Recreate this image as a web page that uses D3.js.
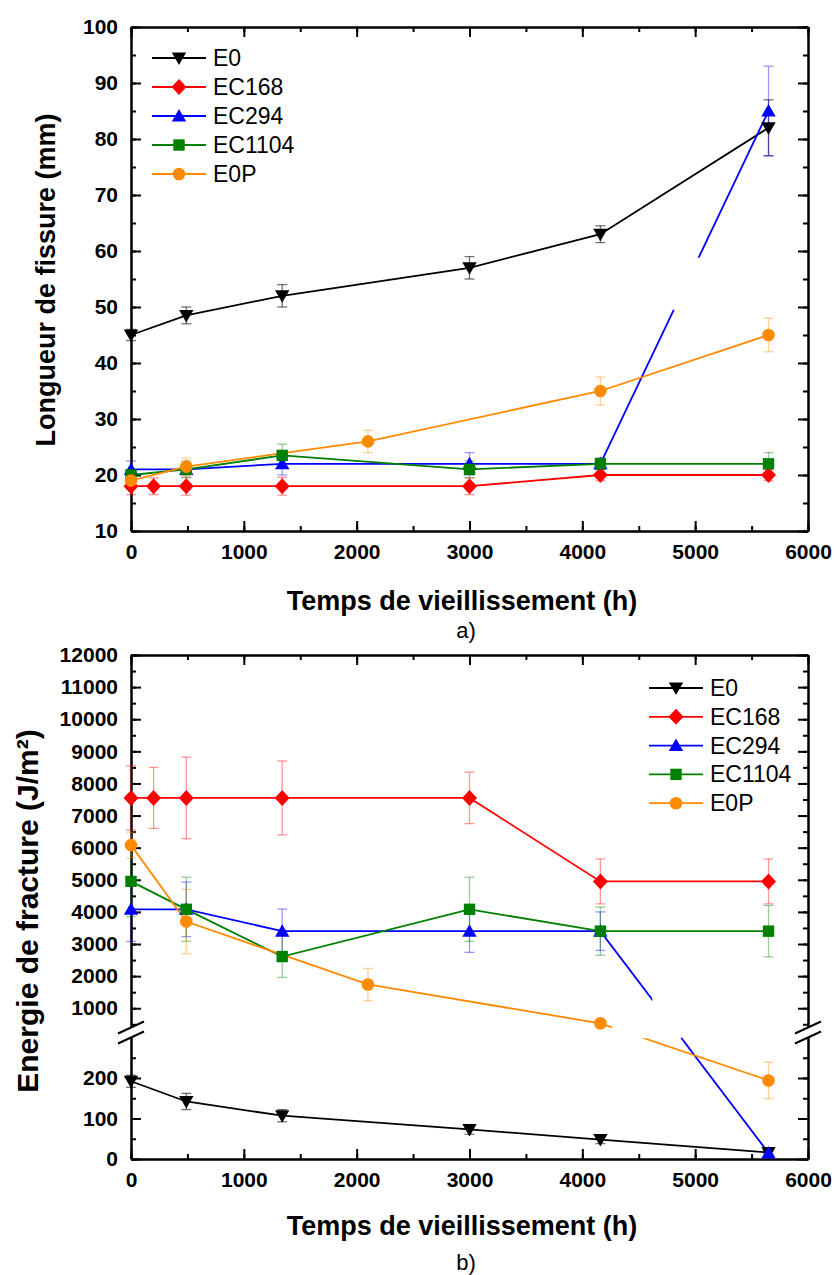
<!DOCTYPE html>
<html><head><meta charset="utf-8">
<script src="https://cdn.jsdelivr.net/npm/d3@7"></script>
<style>body{margin:0;background:#fff}svg{display:block}</style>
</head><body>
<svg id="c" width="837" height="1275"></svg>
<script>
// ---------- data ----------
const seriesNames  = ["E0","EC168","EC294","EC1104","E0P"];
const seriesColors = ["#000000","#ff0000","#0000ff","#008000","#ff8a00"];
const seriesShapes = ["triDown","diamond","triUp","square","circle"];

// chart a) Longueur de fissure (mm)
const aTimes = [
  [0,490,1340,3000,4160,5650],
  [0,200,490,1340,3000,4160,5650],
  [0,490,1340,3000,4160,5650],
  [0,490,1340,3000,4160,5650],
  [0,490,2100,4160,5650]
];
const aValues = [
  [45,48.5,52,57,63,82],
  [18,18,18,18,18,20,20],
  [21,21,22,22,22,85],
  [20,21,23.5,21,22,22],
  [19,21.5,26,35,45]
];
const aErrors = [
  [1,1.5,2,2,1.5,5],
  [1.5,1.5,1.6,1.6,1.5,1,1],
  [1.5,1,2,2,1,8],
  [1,1.5,2,1.5,1,2],
  [1,1.5,2,2.5,3]
];
const aYTicks = [10,20,30,40,50,60,70,80,90,100];
const aMasks = [{x0:4600,x1:5280,y0:49.5,y1:58.8}];

// chart b) Energie de fracture (J/m²)
const bTimes = [
  [0,490,1340,3000,4160,5650],
  [0,200,490,1340,3000,4160,5650],
  [0,490,1340,3000,4160,5650],
  [0,490,1340,3000,4160,5650],
  [0,490,2100,4160,5650]
];
const bValues = [
  [192,142,107,73,48,16],
  [7550,7550,7550,7550,7550,4950,4950],
  [4080,4080,3400,3400,3400,15],
  [4950,4080,2610,4080,3400,3400],
  [6080,3700,1740,530,194]
];
const bErrors = [
  [15,20,15,12,10,5],
  [1000,950,1270,1150,800,700,700],
  [1000,850,690,660,600,5],
  [1100,1000,650,1000,750,800],
  [400,1000,500,0,45]
];
const bUpperTicks = [1000,2000,3000,4000,5000,6000,7000,8000,9000,10000,11000,12000];
const bLowerTicks = [0,100,200];
const bMasks = [{x0:4620,x1:5300,y0:350,y1:1820},{x0:4260,x1:4880,y0:298,y1:430}];

const xTicks = [0,1000,2000,3000,4000,5000,6000];

// ---------- drawing ----------
const svg = d3.select("#c");
const L = 131, R = 808;
const x = d3.scaleLinear().domain([0,6000]).range([L,R]);
const FONT = "'Liberation Sans', Arial, sans-serif";
const fmt = d3.format("d");

function symbolPath(shape, cx, cy){
  const p = d3.path();
  if(shape==="triDown"){ const s=7.2; p.moveTo(cx-s,cy-5.5); p.lineTo(cx+s,cy-5.5); p.lineTo(cx,cy+7); p.closePath(); }
  else if(shape==="triUp"){ const s=7.2; p.moveTo(cx-s,cy+5.5); p.lineTo(cx+s,cy+5.5); p.lineTo(cx,cy-7); p.closePath(); }
  else if(shape==="diamond"){ p.moveTo(cx,cy-8); p.lineTo(cx+7.5,cy); p.lineTo(cx,cy+8); p.lineTo(cx-7.5,cy); p.closePath(); }
  else if(shape==="square"){ p.rect(cx-5.7,cy-5.7,11.4,11.4); }
  else { p.arc(cx,cy,6.3,0,2*Math.PI); }
  return p.toString();
}

function drawSeries(g, times, values, errors, yf, masks, yMaskF){
  seriesNames.forEach((n,i)=>{
    const eg = g.append("g").attr("stroke",seriesColors[i]).attr("stroke-opacity", i===0?0.55:0.4).attr("stroke-width",1.3);
    times[i].forEach((t,j)=>{
      const e = errors[i][j]; if(!e) return;
      const y1 = yf(values[i][j]+e), y2 = yf(values[i][j]-e), cx = x(t);
      eg.append("line").attr("x1",cx).attr("x2",cx).attr("y1",y1).attr("y2",y2);
      eg.append("line").attr("x1",cx-5).attr("x2",cx+5).attr("y1",y1).attr("y2",y1);
      eg.append("line").attr("x1",cx-5).attr("x2",cx+5).attr("y1",y2).attr("y2",y2);
    });
  });
  seriesNames.forEach((n,i)=>{
    const pts = times[i].map((t,j)=>[x(t), yf(values[i][j])]);
    g.append("path").attr("d", d3.line()(pts)).attr("fill","none")
      .attr("stroke",seriesColors[i]).attr("stroke-width",1.8);
  });
  masks.forEach(m=>{
    const ya = yMaskF(m.y1), yb = yMaskF(m.y0);
    g.append("rect").attr("x",x(m.x0)).attr("y",ya).attr("width",x(m.x1)-x(m.x0)).attr("height",yb-ya).attr("fill","#fff");
  });
  seriesNames.forEach((n,i)=>{
    times[i].forEach((t,j)=>{
      g.append("path").attr("d", symbolPath(seriesShapes[i], x(t), yf(values[i][j]))).attr("fill",seriesColors[i]);
    });
  });
}

function drawLegend(g, x0, y0, dy){
  seriesNames.forEach((n,i)=>{
    const yy = y0 + i*dy;
    g.append("line").attr("x1",x0).attr("x2",x0+54).attr("y1",yy).attr("y2",yy).attr("stroke",seriesColors[i]).attr("stroke-width",1.8);
    g.append("path").attr("d", symbolPath(seriesShapes[i], x0+27, yy)).attr("fill",seriesColors[i]);
    g.append("text").attr("x",x0+61).attr("y",yy+8).attr("font-family",FONT).attr("font-size",23).attr("fill","#000").text(n);
  });
}

function styleAxis(sel){
  sel.selectAll("path.domain").attr("stroke","#000").attr("stroke-width",2);
  sel.selectAll("line").attr("stroke","#000").attr("stroke-width",2);
  sel.selectAll("text").attr("font-family",FONT).attr("font-weight","bold").attr("font-size",21).attr("fill","#000");
}

// ===== chart a =====
{
  const T = 27, B = 531;
  const y = d3.scaleLinear().domain([10,100]).range([B,T]);
  const g = svg.append("g");
  const minorX = d3.range(0,6001,500), minorY = d3.range(10,101,5);
  g.append("g").attr("transform",`translate(0,${B})`).call(d3.axisBottom(x).tickValues(minorX).tickSize(-5).tickFormat("").tickSizeOuter(0)).call(styleAxis);
  g.append("g").attr("transform",`translate(0,${T})`).call(d3.axisTop(x).tickValues(minorX).tickSize(-5).tickFormat("").tickSizeOuter(0)).call(styleAxis);
  g.append("g").attr("transform",`translate(${L},0)`).call(d3.axisLeft(y).tickValues(minorY).tickSize(-5).tickFormat("").tickSizeOuter(0)).call(styleAxis);
  g.append("g").attr("transform",`translate(${R},0)`).call(d3.axisRight(y).tickValues(minorY).tickSize(-5).tickFormat("").tickSizeOuter(0)).call(styleAxis);
  g.append("g").attr("transform",`translate(0,${B})`).call(d3.axisBottom(x).tickValues(xTicks).tickSize(-10).tickPadding(13).tickFormat(fmt).tickSizeOuter(0)).call(styleAxis);
  g.append("g").attr("transform",`translate(0,${T})`).call(d3.axisTop(x).tickValues(xTicks).tickSize(-10).tickFormat("").tickSizeOuter(0)).call(styleAxis);
  g.append("g").attr("transform",`translate(${L},0)`).call(d3.axisLeft(y).tickValues(aYTicks).tickSize(-10).tickPadding(13).tickFormat(fmt).tickSizeOuter(0)).call(styleAxis);
  g.append("g").attr("transform",`translate(${R},0)`).call(d3.axisRight(y).tickValues(aYTicks).tickSize(-10).tickFormat("").tickSizeOuter(0)).call(styleAxis);

  drawSeries(g.append("g"), aTimes, aValues, aErrors, y, aMasks, y);
  drawLegend(g.append("g"), 152, 58, 29);

  g.append("text").attr("transform",`translate(55,280) rotate(-90)`).attr("text-anchor","middle")
    .attr("font-family",FONT).attr("font-weight","bold").attr("font-size",27).text("Longueur de fissure (mm)");
  g.append("text").attr("x",462).attr("y",610).attr("text-anchor","middle")
    .attr("font-family",FONT).attr("font-weight","bold").attr("font-size",27).text("Temps de vieillissement (h)");
  g.append("text").attr("x",466).attr("y",638).attr("text-anchor","middle")
    .attr("font-family",FONT).attr("font-size",22).text("a)");
}

// ===== chart b =====
{
  const T = 655, B = 1159;
  const yUp  = d3.scaleLinear().domain([400,12000]).range([1027.5,T]);
  const yLow = d3.scaleLinear().domain([0,300]).range([B,1037.5]);
  const yGap = d3.scaleLinear().domain([300,400]).range([1037.5,1027.5]);
  const yf = v => v>=400 ? yUp(v) : (v<=300 ? yLow(v) : yGap(v));
  const g = svg.append("g");
  const minorX = d3.range(0,6001,500);
  const upMinor = d3.range(500,12001,500), lowMinor = d3.range(0,251,50);
  g.append("g").attr("transform",`translate(0,${B})`).call(d3.axisBottom(x).tickValues(minorX).tickSize(-5).tickFormat("").tickSizeOuter(0)).call(styleAxis);
  g.append("g").attr("transform",`translate(0,${T})`).call(d3.axisTop(x).tickValues(minorX).tickSize(-5).tickFormat("").tickSizeOuter(0)).call(styleAxis);
  g.append("g").attr("transform",`translate(0,${B})`).call(d3.axisBottom(x).tickValues(xTicks).tickSize(-10).tickPadding(13).tickFormat(fmt).tickSizeOuter(0)).call(styleAxis);
  g.append("g").attr("transform",`translate(0,${T})`).call(d3.axisTop(x).tickValues(xTicks).tickSize(-10).tickFormat("").tickSizeOuter(0)).call(styleAxis);
  [[yUp,upMinor,bUpperTicks],[yLow,lowMinor,bLowerTicks]].forEach(([sc,mn,mj])=>{
    g.append("g").attr("transform",`translate(${L},0)`).call(d3.axisLeft(sc).tickValues(mn).tickSize(-5).tickFormat("").tickSizeOuter(0)).call(styleAxis);
    g.append("g").attr("transform",`translate(${R},0)`).call(d3.axisRight(sc).tickValues(mn).tickSize(-5).tickFormat("").tickSizeOuter(0)).call(styleAxis);
    g.append("g").attr("transform",`translate(${L},0)`).call(d3.axisLeft(sc).tickValues(mj).tickSize(-10).tickPadding(13).tickFormat(fmt).tickSizeOuter(0)).call(styleAxis);
    g.append("g").attr("transform",`translate(${R},0)`).call(d3.axisRight(sc).tickValues(mj).tickSize(-10).tickFormat("").tickSizeOuter(0)).call(styleAxis);
  });
  const yb = yGap(350);
  [L,R].forEach(ax=>{
    [-5,5].forEach(off=>{
      g.append("line").attr("x1",ax-13).attr("x2",ax+13).attr("y1",yb+off+6).attr("y2",yb+off-6)
        .attr("stroke","#000").attr("stroke-width",2);
    });
  });

  drawSeries(g.append("g"), bTimes, bValues, bErrors, yf, bMasks, yf);
  drawLegend(g.append("g"), 649, 688, 28.8);

  g.append("text").attr("transform",`translate(38,911) rotate(-90)`).attr("text-anchor","middle")
    .attr("font-family",FONT).attr("font-weight","bold").attr("font-size",30).text("Energie de fracture (J/m²)");
  g.append("text").attr("x",462).attr("y",1235).attr("text-anchor","middle")
    .attr("font-family",FONT).attr("font-weight","bold").attr("font-size",27).text("Temps de vieillissement (h)");
  g.append("text").attr("x",466).attr("y",1270).attr("text-anchor","middle")
    .attr("font-family",FONT).attr("font-size",22).text("b)");
}
</script>
</body></html>
